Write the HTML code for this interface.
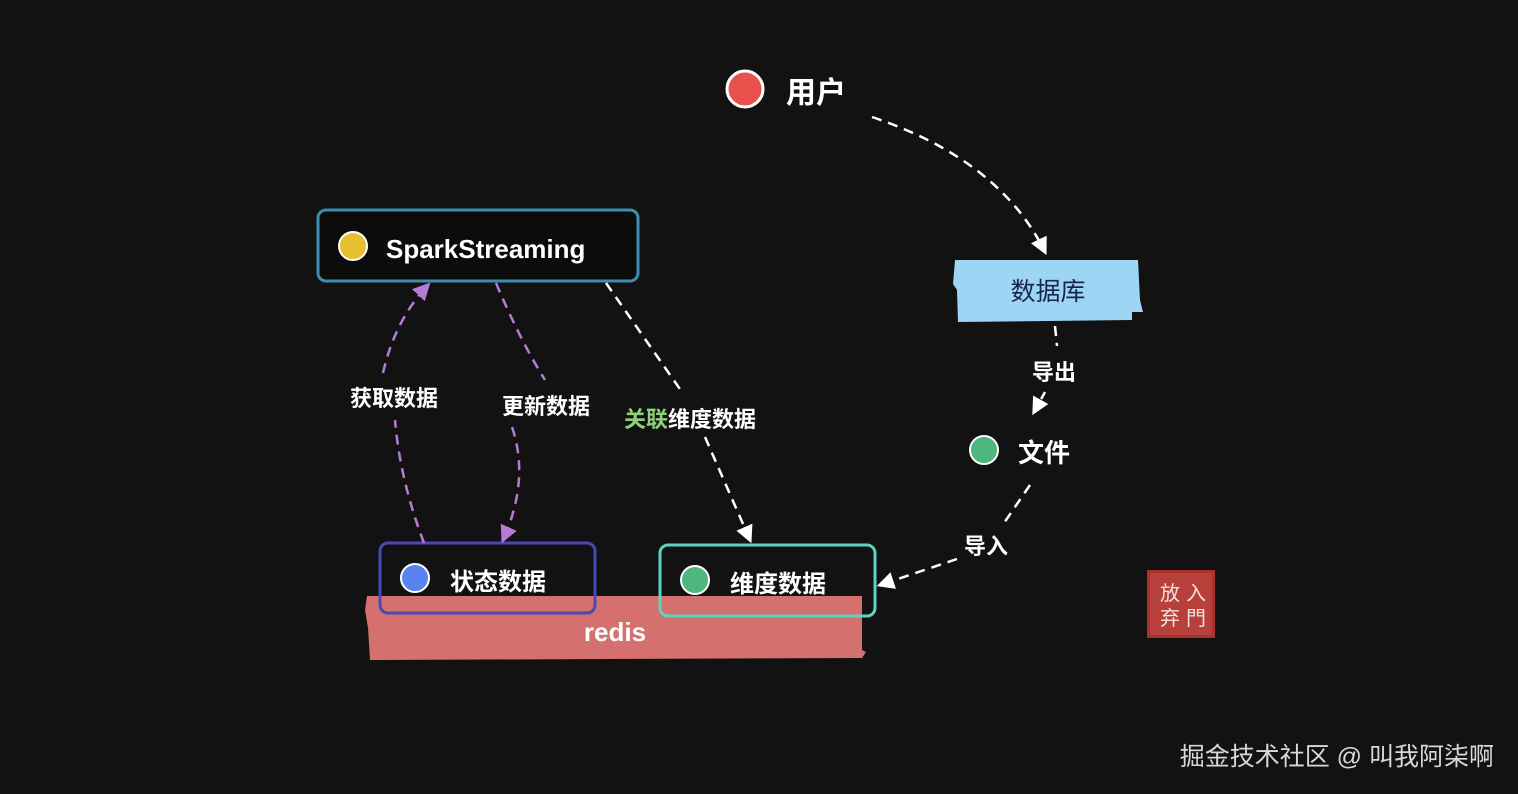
<!DOCTYPE html>
<html><head><meta charset="utf-8"><style>
html,body{margin:0;padding:0;background:#121212;}
svg{display:block}
text{font-family:"Liberation Sans","Noto Sans CJK SC",sans-serif;fill:#fff}
.lb{font-weight:bold;font-size:22px}
</style></head><body>
<svg width="1518" height="794" viewBox="0 0 1518 794" xmlns="http://www.w3.org/2000/svg">
<defs>
<marker id="aw" viewBox="0 0 10 10" refX="8" refY="5" markerWidth="7" markerHeight="7" orient="auto"><path d="M0,0 L10,5 L0,10 z" fill="#fff"/></marker>
<marker id="ap" viewBox="0 0 10 10" refX="8" refY="5" markerWidth="7" markerHeight="7" orient="auto"><path d="M0,0 L10,5 L0,10 z" fill="#b57bd6"/></marker>
</defs>
<rect width="1518" height="794" fill="#121212"/>
<path d="M367,596 L862,596 L862,650 L866,652 L862,658 L370,660 L368,628 L365,610 z" fill="#d4706e"/>
<text x="615" y="641" font-size="26" font-weight="bold" text-anchor="middle">redis</text>
<circle cx="745" cy="89" r="18" fill="#e8514c" stroke="#fff" stroke-width="3"/>
<text x="786" y="103" font-size="30" font-weight="bold">用户</text>
<rect x="318" y="210" width="320" height="71" rx="8" fill="#0c0c0c" stroke="#3a8fb0" stroke-width="3"/>
<circle cx="353" cy="246" r="14" fill="#e7c02f" stroke="#fff" stroke-width="2"/>
<text x="386" y="258" font-size="26" font-weight="bold">SparkStreaming</text>
<path d="M955,260 L1138,260 L1140,300 L1143,312 L1132,312 L1132,320 L958,322 L957,290 L953,284 z" fill="#9dd6f4"/>
<text x="1048" y="300" font-size="25" style="fill:#1a2350" text-anchor="middle">数据库</text>
<circle cx="984" cy="450" r="14" fill="#4fb77e" stroke="#fff" stroke-width="2"/>
<text x="1018" y="462" font-size="26" font-weight="bold">文件</text>
<rect x="380" y="543" width="215" height="70" rx="8" fill="none" stroke="#4b48b6" stroke-width="3"/>
<circle cx="415" cy="578" r="14" fill="#5a82f0" stroke="#fff" stroke-width="2"/>
<text x="450" y="590" font-size="24" font-weight="bold">状态数据</text>
<rect x="660" y="545" width="215" height="71" rx="8" fill="none" stroke="#5fd3bd" stroke-width="3"/>
<circle cx="695" cy="580" r="14" fill="#4fb77e" stroke="#fff" stroke-width="2"/>
<text x="730" y="592" font-size="24" font-weight="bold">维度数据</text>
<path d="M872,117 Q1000,160 1045,252" fill="none" stroke="#fff" stroke-width="2.5" stroke-dasharray="10,7" marker-end="url(#aw)"/>
<path d="M1055,326 L1057,346" fill="none" stroke="#fff" stroke-width="2.5" stroke-dasharray="10,7"/>
<path d="M1045,392 L1034,412" fill="none" stroke="#fff" stroke-width="2.5" stroke-dasharray="8,5" marker-end="url(#aw)"/>
<text x="1054" y="380" class="lb" text-anchor="middle">导出</text>
<path d="M1030,485 L1004,523" fill="none" stroke="#fff" stroke-width="2.5" stroke-dasharray="10,7"/>
<path d="M957,559 L880,585" fill="none" stroke="#fff" stroke-width="2.5" stroke-dasharray="10,7" marker-end="url(#aw)"/>
<text x="986" y="554" class="lb" text-anchor="middle">导入</text>
<path d="M606,283 L682,392" fill="none" stroke="#fff" stroke-width="2.5" stroke-dasharray="10,7"/>
<path d="M705,437 L750,540" fill="none" stroke="#fff" stroke-width="2.5" stroke-dasharray="10,7" marker-end="url(#aw)"/>
<text x="624" y="427" class="lb"><tspan style="fill:#8fd17a">关联</tspan>维度数据</text>
<path d="M496,283 Q520,340 545,380" fill="none" stroke="#b57bd6" stroke-width="2.5" stroke-dasharray="10,7"/>
<path d="M512,427 Q530,480 503,540" fill="none" stroke="#b57bd6" stroke-width="2.5" stroke-dasharray="10,7" marker-end="url(#ap)"/>
<text x="546" y="414" class="lb" text-anchor="middle">更新数据</text>
<path d="M424,543 Q400,480 395,420" fill="none" stroke="#b57bd6" stroke-width="2.5" stroke-dasharray="10,7"/>
<path d="M383,373 Q395,320 428,285" fill="none" stroke="#b57bd6" stroke-width="2.5" stroke-dasharray="10,7" marker-end="url(#ap)"/>
<text x="394" y="406" class="lb" text-anchor="middle">获取数据</text>
<rect x="1147" y="570" width="68" height="68" fill="#a8312c"/>
<rect x="1150" y="573" width="62" height="62" fill="#b8403a"/>
<text x="1170" y="600" font-size="20" text-anchor="middle" style="fill:#f3e0dc">放</text>
<text x="1196" y="600" font-size="20" text-anchor="middle" style="fill:#f3e0dc">入</text>
<text x="1170" y="625" font-size="20" text-anchor="middle" style="fill:#f3e0dc">弃</text>
<text x="1196" y="625" font-size="20" text-anchor="middle" style="fill:#f3e0dc">門</text>
<text x="1494" y="765" font-size="25" text-anchor="end" style="fill:#d8d8d8">掘金技术社区 @ 叫我阿柒啊</text>
</svg>
</body></html>
